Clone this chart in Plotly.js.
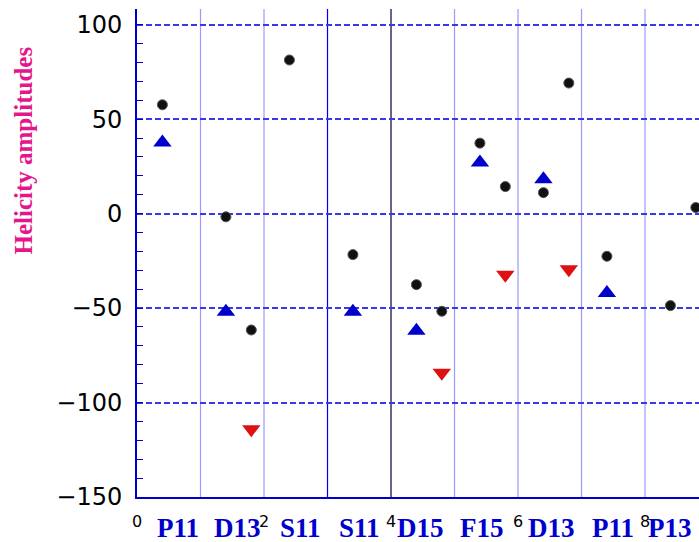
<!DOCTYPE html>
<html>
<head>
<meta charset="utf-8">
<script src="https://cdn.plot.ly/plotly-3.0.1.min.js"></script>
<style>html,body{margin:0;padding:0;background:#fff;}#chart{width:699px;height:542px;}</style>
</head>
<body>
<div id="chart"></div>
<script>
// ---- data ----
const circleX = [0.4, 1.4, 1.8, 2.4, 3.4, 4.4, 4.8, 5.4, 5.8, 6.4, 6.8, 7.4, 8.4, 8.8];
const circleY = [57.6, -1.7, -61.6, 81.3, -21.7, -37.6, -51.7, 37.3, 14.3, 11.1, 69.1, -22.6, -48.7, 3.2];
const upX = [0.4, 1.4, 3.4, 4.4, 5.4, 6.4, 7.4];
const upY = [37.7, -52, -52, -62, 27, 18.2, -42];
const downX = [1.8, 4.8, 5.8, 6.8];
const downY = [-114.1, -84.3, -32.4, -29.5];
const categories = ['P11', 'D13', 'S11', 'S11', 'D15', 'F15', 'D13', 'P11', 'P13'];
const categoryPos = [0.65, 1.58, 2.57, 3.51, 4.46, 5.43, 6.52, 7.5, 8.39];
const dividerX = [1, 2, 3, 4, 5, 6, 7, 8];
const dividerColor = ['#9a9aff', '#9a9aff', '#0000ee', '#000040', '#9a9aff', '#9a9aff', '#9a9aff', '#9a9aff'];
const xTicks = [0, 2, 4, 6, 8];
const yTicks = [-150, -100, -50, 0, 50, 100];

const traces = [
  {x: circleX, y: circleY, type: 'scatter', mode: 'markers',
   marker: {symbol: 'circle', size: 10, color: '#111', line: {color: '#555', width: 1}}, cliponaxis: false},
  {x: upX, y: upY, type: 'scatter', mode: 'markers',
   marker: {symbol: 'triangle-up', size: 16, color: '#0000cc', line: {width: 0}}},
  {x: downX, y: downY, type: 'scatter', mode: 'markers',
   marker: {symbol: 'triangle-down', size: 16, color: '#dd1111', line: {width: 0}}}
];

const shapes = dividerX.map((v, i) => ({
  type: 'line', xref: 'x', yref: 'paper', x0: v, x1: v, y0: 0, y1: 1,
  line: {color: dividerColor[i], width: 1.2}, layer: 'below'
}));

const annotations = categories.map((c, i) => ({
  text: '<b>' + c + '</b>', x: categoryPos[i], xref: 'x', y: -0.063, yref: 'paper',
  xanchor: 'center', yanchor: 'middle', showarrow: false,
  font: {family: 'Liberation Serif, Times New Roman, serif', size: 27, color: '#0000cc'}
}));
annotations.push({
  text: '<b>Helicity amplitudes</b>', textangle: -90, x: -0.202, xref: 'paper',
  y: 0.711, yref: 'paper', xanchor: 'center', yanchor: 'middle', showarrow: false,
  font: {family: 'Liberation Serif, Times New Roman, serif', size: 25, color: '#e5168a'}
});

const layout = {
  width: 699, height: 542,
  margin: {l: 137, r: 0, t: 9, b: 45},
  paper_bgcolor: '#fff', plot_bgcolor: '#fff',
  showlegend: false,
  xaxis: {
    range: [0, 8.85], tickvals: xTicks, ticks: '', showgrid: false, zeroline: false,
    showline: true, linecolor: '#0000cc', linewidth: 2,
    tickfont: {family: 'DejaVu Sans', size: 16, color: '#000'}, ticklabelstandoff: 9
  },
  yaxis: {
    range: [-150, 108.3], tickvals: yTicks, ticks: 'inside', ticklen: 6, tickcolor: '#0000cc',
    showline: true, linecolor: '#0000cc', linewidth: 2, zeroline: false,
    showgrid: true, gridcolor: '#3838ec', gridwidth: 2, griddash: '6px,3px',
    minor: {dtick: 10, tick0: -150, ticks: 'inside', ticklen: 6, tickcolor: '#0000cc', showgrid: false},
    tickfont: {family: 'DejaVu Sans', size: 24, color: '#000'}, ticklabelstandoff: 8
  },
  shapes: shapes,
  annotations: annotations
};

Plotly.newPlot('chart', traces, layout, {displayModeBar: false, staticPlot: true});
</script>
</body>
</html>
